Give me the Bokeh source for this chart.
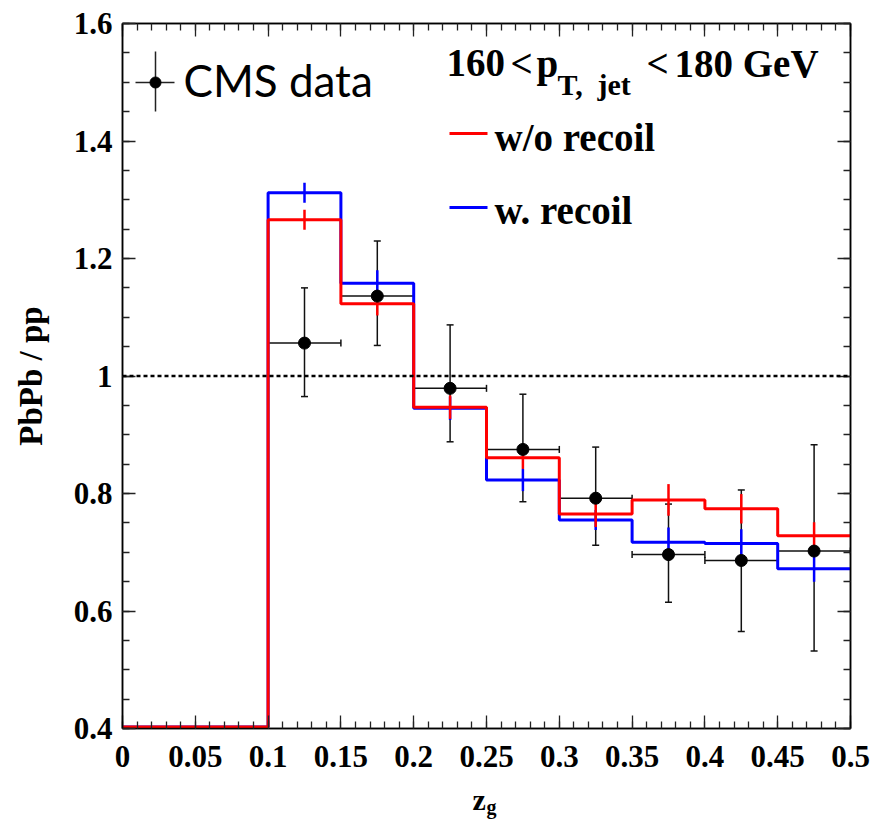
import numpy as np
from bokeh.plotting import figure
from bokeh.layouts import column
from bokeh.models import (Range1d, FixedTicker, LinearAxis, Span, Whisker, TeeHead,
                          ColumnDataSource, Label, CustomJSTickFormatter)
from bokeh.core.properties import value
from bokeh.embed import file_html
from bokeh.resources import INLINE

# ---------------- data ----------------
bin_edges = [0.0, 0.05, 0.10, 0.15, 0.20, 0.25, 0.30, 0.35, 0.40, 0.45, 0.50]

wo_recoil     = [0.0, 0.0, 1.266, 1.123, 0.947, 0.861, 0.765, 0.789, 0.774, 0.728]
wo_recoil_err = [0.0, 0.0, 0.017, 0.020, 0.020, 0.019, 0.022, 0.027, 0.025, 0.023]

w_recoil      = [0.0, 0.0, 1.312, 1.158, 0.945, 0.823, 0.755, 0.717, 0.715, 0.672]
w_recoil_err  = [0.0, 0.0, 0.017, 0.022, 0.020, 0.019, 0.017, 0.025, 0.024, 0.022]

cms_x      = [0.125, 0.175, 0.225, 0.275, 0.325, 0.375, 0.425, 0.475]
cms_y      = [1.056, 1.136, 0.979, 0.875, 0.792, 0.696, 0.686, 0.702]
cms_err_up = [0.094, 0.094, 0.108, 0.094, 0.087, 0.086, 0.120, 0.181]
cms_err_dn = [0.091, 0.084, 0.091, 0.089, 0.080, 0.081, 0.121, 0.170]
cms_xerr   = [0.025, 0.025, 0.025, 0.025, 0.025, 0.025, 0.025, 0.025]

x_ticks       = [0.0, 0.05, 0.1, 0.15, 0.2, 0.25, 0.3, 0.35, 0.4, 0.45, 0.5]
x_tick_labels = ["0", "0.05", "0.1", "0.15", "0.2", "0.25", "0.3", "0.35", "0.4", "0.45", "0.5"]
y_ticks       = [0.4, 0.6, 0.8, 1.0, 1.2, 1.4, 1.6]
y_tick_labels = ["0.4", "0.6", "0.8", "1", "1.2", "1.4", "1.6"]

x_minor = [round(v, 3) for v in np.arange(0.0, 0.5001, 0.01)]
y_minor = [round(v, 3) for v in np.arange(0.4, 1.6001, 0.05)]

X0, X1 = 0.0, 0.5
Y0, Y1 = 0.4, 1.6

# ---------------- layout ----------------
W, H = 873, 820
H1 = 780                      # main figure height, the rest holds the x title
FL, FR, FT, FB = 122, 850, 23, 728

def dx(px):
    return X0 + (px - FL) / (FR - FL) * (X1 - X0)

def dy(py):
    return Y1 - (py - FT) / (FB - FT) * (Y1 - Y0)

SERIF = "Liberation Serif"
BASE_SHIFT = 0.36   # text is anchored near its centre; shift so the baseline lands at py

p = figure(width=W, height=H1, x_range=Range1d(X0, X1), y_range=Range1d(Y0, Y1),
           output_backend="svg", toolbar_location=None,
           min_border_left=FL, min_border_right=W - FR,
           min_border_top=FT, min_border_bottom=H1 - FB)
p.background_fill_color = "white"
p.border_fill_color = "white"
p.xgrid.grid_line_color = None
p.ygrid.grid_line_color = None
p.outline_line_color = "black"
p.outline_line_width = 1.5

def style_axis(ax, ticks, minor, labels_map, show_labels):
    ax.ticker = FixedTicker(ticks=ticks, minor_ticks=minor)
    ax.major_tick_in = 13
    ax.major_tick_out = 0
    ax.minor_tick_in = 7
    ax.minor_tick_out = 0
    ax.major_tick_line_color = "#222222"
    ax.minor_tick_line_color = "#222222"
    ax.major_tick_line_width = 1.3
    ax.minor_tick_line_width = 1.3
    ax.axis_line_color = "black"
    ax.axis_line_width = 1.5
    if show_labels:
        ax.major_label_overrides = labels_map
        ax.major_label_text_font = SERIF
        ax.major_label_text_font_style = "bold"
        ax.major_label_text_font_size = "31px"
        ax.major_label_text_color = "black"
    else:
        ax.formatter = CustomJSTickFormatter(code="return ''")

xmap = dict(zip(x_ticks, x_tick_labels))
ymap = dict(zip(y_ticks, y_tick_labels))

style_axis(p.xaxis[0], x_ticks, x_minor, xmap, True)
style_axis(p.yaxis[0], y_ticks, y_minor, ymap, True)
p.xaxis[0].major_label_standoff = 17
p.yaxis[0].major_label_standoff = 10

p.yaxis[0].axis_label = "PbPb / pp"
p.yaxis[0].axis_label_text_font = SERIF
p.yaxis[0].axis_label_text_font_style = "bold"
p.yaxis[0].axis_label_text_font_size = "33px"
p.yaxis[0].axis_label_text_color = "black"
p.yaxis[0].axis_label_standoff = 22

top_ax = LinearAxis()
right_ax = LinearAxis()
style_axis(top_ax, x_ticks, x_minor, None, False)
style_axis(right_ax, y_ticks, y_minor, None, False)
p.add_layout(top_ax, "above")
p.add_layout(right_ax, "right")

# reference line at 1
p.add_layout(Span(location=1.0, dimension="width", line_color="black",
                  line_width=2.5, line_dash="4 3"))

# ---------------- histograms ----------------
centers = [(a + b) / 2 for a, b in zip(bin_edges[:-1], bin_edges[1:])]
floor = Y0 + 0.0025   # empty bins are drawn on the frame, as ROOT does

def draw_hist(vals, errs, color):
    disp = list(np.maximum(np.array(vals), floor))
    p.step(x=bin_edges, y=disp + [disp[-1]], mode="after",
           line_color=color, line_width=3)
    xs = [c for c, v in zip(centers, vals) if v > 0]
    lo = [v - e for v, e in zip(vals, errs) if v > 0]
    hi = [v + e for v, e in zip(vals, errs) if v > 0]
    p.segment(x0=xs, y0=lo, x1=xs, y1=hi, line_color=color, line_width=2.5)

draw_hist(w_recoil, w_recoil_err, "#0000ff")
draw_hist(wo_recoil, wo_recoil_err, "#ff0000")

# ---------------- CMS data ----------------
src = ColumnDataSource(dict(
    x=cms_x, y=cms_y,
    ylo=[y - e for y, e in zip(cms_y, cms_err_dn)],
    yhi=[y + e for y, e in zip(cms_y, cms_err_up)],
    xlo=[x - e for x, e in zip(cms_x, cms_xerr)],
    xhi=[x + e for x, e in zip(cms_x, cms_xerr)],
))
p.add_layout(Whisker(source=src, base="x", lower="ylo", upper="yhi", dimension="height",
                     line_color="#111111", line_width=1.5,
                     upper_head=TeeHead(size=7, line_color="#111111", line_width=1.5),
                     lower_head=TeeHead(size=7, line_color="#111111", line_width=1.5)))
p.add_layout(Whisker(source=src, base="y", lower="xlo", upper="xhi", dimension="width",
                     line_color="#111111", line_width=1.5,
                     upper_head=TeeHead(size=7, line_color="#111111", line_width=1.5),
                     lower_head=TeeHead(size=7, line_color="#111111", line_width=1.5)))
p.scatter(x="x", y="y", source=src, size=12, marker="circle",
          fill_color="black", line_color="black")

# ---------------- legend / texts ----------------
def lab(text, px, py, size, font=SERIF, style="bold"):
    p.add_layout(Label(x=dx(px), y=dy(py - BASE_SHIFT * size), text=text, text_font=font,
                       text_font_style=style, text_font_size=f"{size}px",
                       text_baseline="alphabetic", text_align="left",
                       text_color="black"))

# CMS data key
p.segment(x0=[dx(155)], y0=[dy(51)], x1=[dx(155)], y1=[dy(111)], line_color="#222222", line_width=1.5)
p.segment(x0=[dx(135)], y0=[dy(82)], x1=[dx(174)], y1=[dy(82)], line_color="#222222", line_width=1.5)
p.scatter(x=[dx(155)], y=[dy(82)], size=11, marker="circle", fill_color="black", line_color="black")
lab("CMS data", 183, 95, 44, font="Lato", style="normal")

# model keys
p.line(x=[dx(449), dx(487)], y=[dy(133), dy(133)], line_color="#ff0000", line_width=3)
lab("w/o recoil", 494, 151, 39)
p.line(x=[dx(449), dx(487)], y=[dy(207), dy(207)], line_color="#0000ff", line_width=3)
lab("w. recoil", 494, 224, 39)

# kinematic range
lab("160", 446, 77, 39)
lab("<", 510, 77, 39)
lab("p", 536, 77, 39)
lab("T,", 557, 95, 30)
lab("jet", 597, 95, 30)
lab("<", 646, 77, 39)
lab("180 GeV", 674, 77, 39)

# ---------------- x-axis title strip ----------------
# its frame is aligned with the main frame by the column layout (x from FL to FR)
f2 = figure(width=W, height=H - H1, x_range=Range1d(FL, FR), y_range=Range1d(H, H1),
            output_backend="svg", toolbar_location=None,
            min_border_left=FL, min_border_right=W - FR,
            min_border_top=0, min_border_bottom=0)
f2.axis.visible = False
f2.xgrid.grid_line_color = None
f2.ygrid.grid_line_color = None
f2.outline_line_color = None
f2.background_fill_color = "white"
f2.border_fill_color = "white"
f2.text(x=[472], y=[810 - BASE_SHIFT * 30], text=["z"], text_font=value(SERIF),
        text_font_style="bold", text_font_size="30px", text_baseline="alphabetic",
        text_align="left", text_color="black")
f2.text(x=[486], y=[814 - BASE_SHIFT * 20], text=["g"], text_font=value(SERIF),
        text_font_style="bold", text_font_size="20px", text_baseline="alphabetic",
        text_align="left", text_color="black")

layout = column(p, f2, spacing=0)
open("out.html", "w").write(file_html(layout, INLINE))
